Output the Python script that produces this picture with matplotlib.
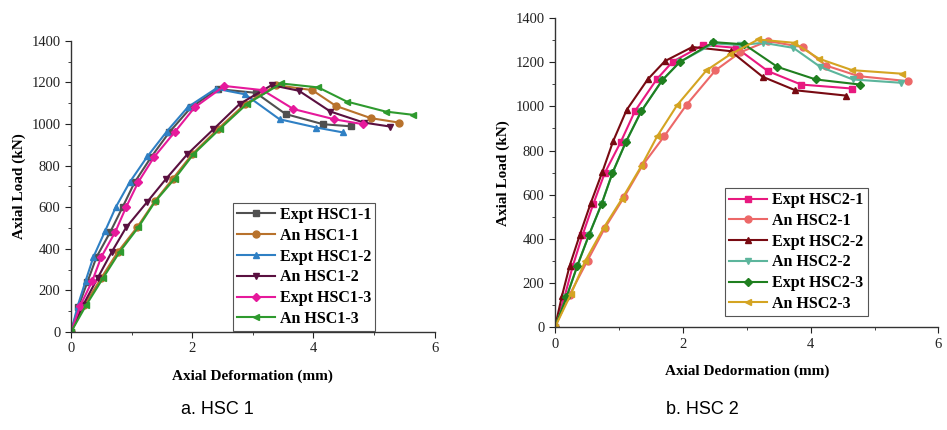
import matplotlib
matplotlib.use("Agg")
import matplotlib.pyplot as plt

# HSC 1 data (deformation mm, load kN)
e11_x = [0, 0.12, 0.27, 0.42, 0.65, 0.85, 1.05, 1.32, 1.62, 1.98, 2.42, 3.05, 3.54, 4.16, 4.62]
e11_y = [0, 120, 240, 360, 482, 600, 720, 840, 960, 1080, 1168, 1150, 1048, 999, 989]
a11_x = [0, 0.22, 0.50, 0.77, 1.09, 1.38, 1.68, 2.00, 2.42, 2.87, 3.39, 3.98, 4.37, 4.95, 5.41]
a11_y = [0, 129, 260, 384, 503, 628, 737, 855, 975, 1096, 1187, 1163, 1087, 1028, 1007]
e12_x = [0, 0.11, 0.24, 0.37, 0.56, 0.74, 0.97, 1.26, 1.58, 1.93, 2.39, 2.87, 3.44, 4.05, 4.48]
e12_y = [0, 125, 245, 361, 484, 601, 721, 844, 964, 1082, 1170, 1143, 1023, 983, 960]
a12_x = [0, 0.20, 0.44, 0.67, 0.91, 1.25, 1.57, 1.92, 2.35, 2.78, 3.31, 3.76, 4.28, 4.83, 5.26]
a12_y = [0, 130, 260, 384, 503, 623, 737, 855, 975, 1096, 1187, 1160, 1060, 1007, 988]
e13_x = [0, 0.15, 0.35, 0.50, 0.73, 0.91, 1.11, 1.37, 1.71, 2.04, 2.53, 3.16, 3.67, 4.34, 4.82]
e13_y = [0, 125, 245, 361, 481, 601, 721, 841, 961, 1080, 1183, 1163, 1072, 1023, 999]
a13_x = [0, 0.25, 0.53, 0.80, 1.11, 1.39, 1.71, 2.02, 2.45, 2.90, 3.47, 4.08, 4.55, 5.19, 5.65]
a13_y = [0, 129, 260, 384, 503, 628, 737, 855, 975, 1096, 1195, 1176, 1108, 1060, 1044]

# HSC 2 data
e21_x = [0, 0.15, 0.28, 0.43, 0.60, 0.78, 1.03, 1.25, 1.59, 1.84, 2.32, 2.84, 3.33, 3.85, 4.64]
e21_y = [0, 138, 278, 416, 558, 699, 839, 978, 1122, 1202, 1278, 1265, 1160, 1099, 1081]
a21_x = [0, 0.23, 0.51, 0.78, 1.08, 1.37, 1.71, 2.06, 2.51, 2.90, 3.33, 3.88, 4.24, 4.75, 5.53]
a21_y = [0, 147, 302, 449, 588, 733, 865, 1008, 1163, 1245, 1296, 1268, 1185, 1137, 1114]
e22_x = [0, 0.11, 0.23, 0.39, 0.56, 0.74, 0.91, 1.12, 1.45, 1.72, 2.15, 2.75, 3.25, 3.76, 4.55]
e22_y = [0, 142, 278, 419, 562, 702, 842, 983, 1122, 1205, 1269, 1250, 1134, 1073, 1049]
a22_x = [0, 0.18, 0.35, 0.53, 0.73, 0.90, 1.11, 1.35, 1.68, 1.95, 2.48, 2.90, 3.26, 3.73, 4.15, 4.66, 5.41]
a22_y = [0, 136, 278, 416, 558, 699, 839, 978, 1119, 1200, 1285, 1278, 1288, 1265, 1179, 1122, 1107]
e23_x = [0, 0.18, 0.35, 0.53, 0.73, 0.90, 1.11, 1.35, 1.68, 1.95, 2.48, 2.96, 3.48, 4.08, 4.77]
e23_y = [0, 136, 278, 416, 558, 699, 839, 978, 1119, 1200, 1291, 1281, 1179, 1122, 1099]
a23_x = [0, 0.25, 0.47, 0.76, 1.05, 1.35, 1.60, 1.91, 2.37, 2.74, 3.18, 3.74, 4.13, 4.65, 5.43]
a23_y = [0, 150, 298, 449, 582, 729, 865, 1005, 1163, 1235, 1303, 1288, 1216, 1164, 1148]

serif = "Liberation Serif"

fig = plt.figure(figsize=(9.47, 4.3), dpi=100)
ax1 = fig.add_axes([0.075, 0.228, 0.384, 0.677])
ax2 = fig.add_axes([0.586, 0.239, 0.405, 0.719])

series1 = [
    (e11_x, e11_y, "Expt HSC1-1", "#505050", "s"),
    (a11_x, a11_y, "An HSC1-1", "#b8722c", "o"),
    (e12_x, e12_y, "Expt HSC1-2", "#2f80c4", "^"),
    (a12_x, a12_y, "An HSC1-2", "#5a1040", "v"),
    (e13_x, e13_y, "Expt HSC1-3", "#e6199b", "D"),
    (a13_x, a13_y, "An HSC1-3", "#2e9a2e", "<"),
]
series2 = [
    (e21_x, e21_y, "Expt HSC2-1", "#e8197f", "s"),
    (a21_x, a21_y, "An HSC2-1", "#ec6868", "o"),
    (e22_x, e22_y, "Expt HSC2-2", "#780a12", "^"),
    (a22_x, a22_y, "An HSC2-2", "#5cb59c", "v"),
    (e23_x, e23_y, "Expt HSC2-3", "#1f7f1f", "D"),
    (a23_x, a23_y, "An HSC2-3", "#d4a422", "<"),
]

for ax, series, xlab, anchor in [
    (ax1, series1, "Axial Deformation (mm)", (0.445, 0.443)),
    (ax2, series2, "Axial Dedormation (mm)", (0.4435, 0.45)),
]:
    for xs, ys, lab, col, mk in series:
        ms = 4 if mk == "D" else 5
        ax.plot(xs, ys, color=col, marker=mk, markersize=ms, linewidth=1.5, label=lab)
    ax.set_xlim(0, 6)
    ax.set_ylim(0, 1400)
    ax.set_xticks([0, 2, 4, 6])
    ax.set_xticks([1, 3, 5], minor=True)
    ax.set_yticks(range(0, 1401, 200))
    ax.set_yticks(range(100, 1400, 200), minor=True)
    ax.spines["top"].set_visible(False)
    ax.spines["right"].set_visible(False)
    for sp in ["left", "bottom"]:
        ax.spines[sp].set_color("#333333")
        ax.spines[sp].set_linewidth(1.0)
    ax.tick_params(which="major", direction="out", length=4, labelsize=10.5, colors="#222222")
    ax.tick_params(which="minor", direction="out", length=2.5, colors="#222222")
    for t in ax.get_xticklabels() + ax.get_yticklabels():
        t.set_fontfamily(serif)
    ax.set_xlabel(xlab, fontfamily=serif, fontweight="bold", fontsize=11, labelpad=10)
    ax.set_ylabel("Axial Load (kN)", fontfamily=serif, fontweight="bold", fontsize=11, labelpad=4)
    leg = ax.legend(loc="upper left", bbox_to_anchor=anchor, borderaxespad=0,
                    prop={"family": serif, "weight": "bold", "size": 11.5},
                    handlelength=2.4, labelspacing=0.3, handletextpad=0.3,
                    borderpad=0.25, fancybox=False, framealpha=1)
    leg.get_frame().set_edgecolor("#555555")
    leg.get_frame().set_linewidth(0.8)

fig.text(0.230, 1 - 410 / 430, "a. HSC 1", ha="center", va="center",
         fontfamily="Liberation Sans", fontsize=13)
fig.text(0.742, 1 - 410 / 430, "b. HSC 2", ha="center", va="center",
         fontfamily="Liberation Sans", fontsize=13)

fig.savefig("out.png", dpi=100)
